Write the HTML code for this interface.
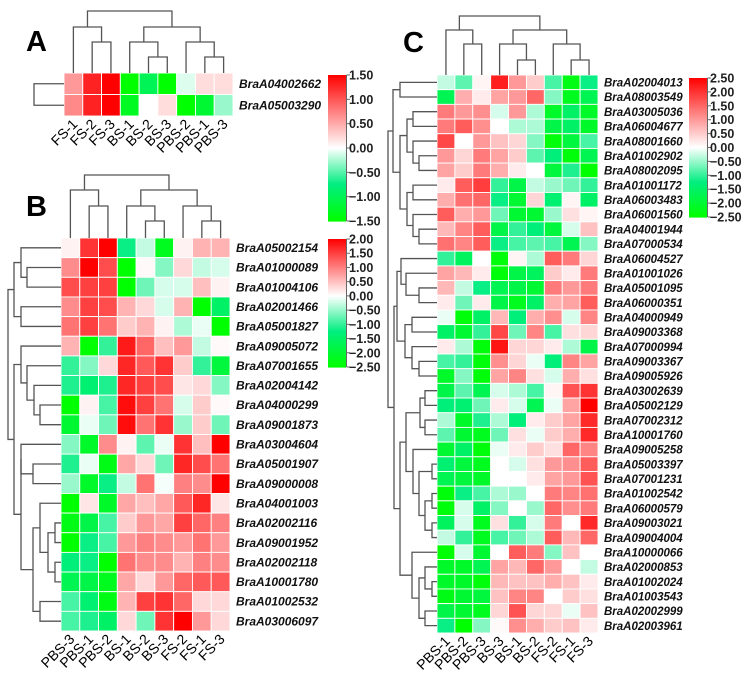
<!DOCTYPE html>
<html><head><meta charset="utf-8"><style>
body{margin:0;background:#fff}
svg{display:block;font-family:"Liberation Sans",Arial,sans-serif}
</style></head><body>
<svg id="fig" width="752" height="679" viewBox="0 0 752 679" xmlns="http://www.w3.org/2000/svg"></svg>
<script>
// ---- Panel A data ----
const colsA = ["FS-1","FS-2","FS-3","BS-1","BS-2","BS-3","PBS-2","PBS-1","PBS-3"];
const genesA = ["BraA04002662","BraA05003290"];
const valuesA = [
 [0.6,1.3,1.5,-1.5,-1.0,-1.5,-0.1,0.2,0.2],
 [0.7,1.3,1.5,-1.3,0.0,0.2,-1.5,-1.2,-0.3]
];
const ticksA = ["1.50","1.00","0.50","0.00","\u22120.50","\u22121.00","\u22121.50"];
// ---- Panel B data ----
const colsB = ["PBS-3","PBS-1","PBS-2","BS-1","BS-2","BS-3","FS-2","FS-1","FS-3"];
const genesB = ["BraA05002154","BraA01000089","BraA01004106","BraA02001466","BraA05001827","BraA09005072","BraA07001655","BraA02004142","BraA04000299","BraA09001873","BraA03004604","BraA05001907","BraA09000008","BraA04001003","BraA02002116","BraA09001952","BraA02002118","BraA10001780","BraA01002532","BraA03006097"];
const valuesB = [
 [0.1,1.6,2.0,-1.2,-0.3,-2.2,0.1,0.6,0.6],
 [0.9,2.0,1.4,-2.5,0.05,-0.6,0.3,-0.3,-0.2],
 [1.4,1.5,1.5,-2.5,-0.7,-0.2,-0.2,0.5,0.1],
 [0.9,1.5,1.4,0.6,0.3,-0.2,0.6,-2.5,-1.5],
 [1.1,1.5,1.1,0.4,0.6,0.1,-0.4,-0.1,-2.5],
 [0.6,-2.5,-1.0,1.8,1.2,0.5,0.8,-0.3,0.05],
 [-1.0,-0.6,0.3,1.7,1.3,1.6,0.4,-1.0,-1.9],
 [-1.1,-1.4,-1.1,1.7,1.5,1.4,0.2,0.3,-0.6],
 [-2.5,0.1,-0.9,1.9,1.5,1.1,-0.2,0.4,0.05],
 [-2.0,-0.1,-0.7,1.9,1.1,1.6,-0.5,0.4,-0.7],
 [-0.6,-2.1,0.9,0.1,-0.8,-0.1,1.6,0.5,2.0],
 [-1.1,-0.1,-2.3,0.7,0.3,-0.7,1.7,1.4,1.1],
 [-0.5,-2.1,-1.2,-0.3,1.1,-0.05,1.0,0.9,2.0],
 [-2.5,0.2,-2.1,0.7,0.5,0.7,1.3,1.7,0.2],
 [-2.3,-1.8,-0.9,0.4,0.8,0.7,1.5,1.2,1.0],
 [-2.5,-1.2,-0.9,0.8,1.0,0.9,0.8,1.1,0.8],
 [-1.3,-1.2,-2.5,1.1,0.9,0.9,0.6,1.0,0.9],
 [-1.7,-1.8,-2.2,0.7,0.3,0.8,1.2,1.3,1.3],
 [-0.9,-1.4,-2.3,0.6,1.5,1.6,1.2,0.3,0.3],
 [-0.9,-1.1,-1.5,0.3,-0.7,1.6,2.0,0.8,0.3]
];
const ticksB = ["2.00","1.50","1.00","0.50","0.00","\u22120.50","\u22121.00","\u22121.50","\u22122.00","\u22122.50"];
// ---- Panel C data ----
const colsC = ["PBS-1","PBS-2","PBS-3","BS-3","BS-1","BS-2","FS-2","FS-1","FS-3"];
const genesC = ["BraA02004013","BraA08003549","BraA03005036","BraA06004677","BraA08001660","BraA01002902","BraA08002095","BraA01001172","BraA06003483","BraA06001560","BraA04001944","BraA07000534","BraA06004527","BraA01001026","BraA05001095","BraA06000351","BraA04000949","BraA09003368","BraA07000994","BraA09003367","BraA09005926","BraA03002639","BraA05002129","BraA07002312","BraA10001760","BraA09005258","BraA05003397","BraA07001231","BraA01002542","BraA06000579","BraA09003021","BraA09004004","BraA10000066","BraA02000853","BraA01002024","BraA01003543","BraA02002999","BraA02003961"];
const valuesC = [
 [-0.3,-0.8,0.1,2.2,1.0,0.5,-0.9,-2.3,-1.2],
 [-1.7,0.8,0.2,0.9,1.0,1.5,-0.6,-2.2,-1.7],
 [1.3,1.0,1.1,-0.2,1.0,-0.4,-2.1,-1.5,-2.1],
 [1.3,1.6,1.1,0.0,-0.4,-0.4,-1.8,-1.5,-2.1],
 [1.8,0.0,1.0,0.6,0.4,-0.6,-2.4,-1.9,-0.9],
 [1.0,0.4,1.3,0.9,0.5,-0.8,-1.3,-2.4,-1.7],
 [0.9,0.5,1.3,0.8,0.2,0.0,-1.9,-1.1,-2.5],
 [0.2,1.6,1.9,-1.0,-1.8,-0.3,-0.5,-0.7,-1.0],
 [0.8,1.4,1.5,-1.2,-2.0,0.4,-1.4,0.1,-1.5],
 [1.6,0.8,1.0,-0.7,-2.0,-2.0,-0.5,0.3,0.1],
 [0.7,1.2,1.6,-1.8,-1.0,-1.3,-1.9,-0.2,0.6],
 [1.4,1.2,1.6,-1.2,-0.9,-0.8,-0.9,-1.7,-0.6],
 [-1.0,-1.6,0.0,-2.4,0.1,-0.4,1.6,1.3,0.4],
 [0.9,0.7,0.2,-2.4,-1.8,-1.6,0.5,0.2,1.3],
 [0.7,-0.3,-1.2,-1.7,-1.8,-2.0,1.3,1.0,1.3],
 [0.2,-0.7,0.2,-1.8,-2.2,-1.5,0.8,0.9,1.6],
 [-0.1,-2.4,-1.5,0.7,-1.3,0.8,1.1,-0.2,1.2],
 [-1.5,-2.0,-1.0,1.8,-0.7,1.2,-0.9,0.3,0.4],
 [0.2,-0.4,-2.4,2.3,0.4,0.4,0.2,-0.4,-1.8],
 [-0.9,-1.0,-2.4,1.1,0.4,-0.1,-1.3,1.2,0.9],
 [-2.1,-0.6,-2.4,0.9,1.2,0.3,-0.2,0.8,0.3],
 [-1.8,-0.8,-1.7,-0.2,-0.4,-0.9,0.1,1.7,2.0],
 [-1.3,-1.4,-0.7,0.2,-0.2,-1.7,-0.1,0.9,2.5],
 [-0.4,-2.1,-1.1,-0.4,-1.3,0.2,0.5,0.9,2.1],
 [-0.8,-2.0,-2.2,-0.7,0.3,-0.1,0.5,0.8,2.1],
 [-2.0,-1.5,-2.4,-0.1,0.2,0.5,0.3,1.5,1.2],
 [-1.4,-1.9,-2.2,0.0,-0.2,0.3,1.0,1.1,1.6],
 [-1.7,-1.9,-2.1,0.0,0.0,0.2,0.9,1.0,1.7],
 [-2.4,-1.2,-0.9,-0.4,-0.5,0.0,1.3,1.2,1.4],
 [-2.4,-0.2,-1.5,-0.6,0.0,-0.5,1.5,1.1,1.3],
 [-1.6,-0.2,-2.2,0.3,-1.0,-0.2,1.3,0.0,2.1],
 [-0.3,-1.0,-2.2,-0.9,-0.7,-0.4,1.6,0.7,1.5],
 [-2.5,-0.2,-2.0,0.0,1.6,1.3,-0.6,0.6,0.0],
 [-2.1,-2.1,-1.7,0.9,0.7,1.5,1.0,0.0,-0.3],
 [-2.1,-2.1,-2.4,0.7,0.6,0.6,0.8,0.6,0.2],
 [-2.3,-2.0,-1.9,0.6,1.2,1.2,0.0,0.5,0.3],
 [-1.8,-2.0,-2.2,0.4,1.7,0.4,0.4,-0.1,0.6],
 [-1.2,-2.5,-0.6,0.05,1.1,0.8,0.5,0.6,0.2]
];
const ticksC = ["2.50","2.00","1.50","1.00","0.50","0.00","\u22120.50","\u22121.00","\u22121.50","\u22122.00","\u22122.50"];

const NS="http://www.w3.org/2000/svg";
const svg=document.getElementById('fig');
function mk(tag,attrs,parent){const e=document.createElementNS(NS,tag);for(const k in attrs)e.setAttribute(k,attrs[k]);(parent||svg).appendChild(e);return e;}
function lerp(a,b,t){return Math.round(a+(b-a)*t);}
function color(v,vmin,vmax){
  if(v>=0){const t=Math.min(1,v/vmax);return `rgb(255,${lerp(255,0,t)},${lerp(255,0,t)})`;}
  const t=Math.min(1,v/vmin);
  if(t<0.5){const s=t/0.5;return `rgb(${lerp(255,0,s)},${lerp(255,238,s)},${lerp(255,128,s)})`;}
  const s=(t-0.5)/0.5;return `rgb(0,${lerp(238,255,s)},${lerp(128,0,s)})`;
}
function heatmap(p){
  const g=mk('g',{});
  
  
  const cw=p.w/p.cols.length,ch=p.h/p.genes.length;
  p.values.forEach((row,i)=>row.forEach((v,j)=>{
    const r=mk('rect',{x:p.x+j*cw,y:p.y+i*ch,width:cw,height:ch,fill:color(v,p.vmin,p.vmax),stroke:'#fff','stroke-width':0.9},g);
    
    
  }));
  p.genes.forEach((gn,i)=>{
    const t=mk('text',{x:p.x+p.w+6,y:p.y+(i+0.5)*ch+4.2,'font-size':p.fs,'font-weight':'bold','font-style':'italic',fill:'#111'},g);
    t.textContent=gn;
    
    
  });
  p.cols.forEach((c,j)=>{
    const cx=p.x+(j+0.5)*cw+5,cy=p.y+p.h+9;
    const t=mk('text',{x:cx,y:cy,'font-size':14,'text-anchor':'end',fill:'#000',transform:`rotate(-45 ${cx} ${cy})`},g);
    t.textContent=c;
    
    
  });
  const dg=mk('g',{stroke:'#555','stroke-width':1.3,fill:'none'},g);
  function col(node){
    if(typeof node==='number')return {x:p.x+(node+0.5)*cw,y:p.y};
    const a=col(node[0]),b=col(node[1]),y=p.y-node[2];
    mk('path',{d:`M${a.x},${a.y}V${y}H${b.x}V${b.y}`},dg);
    return {x:(a.x+b.x)/2,y:y};
  }
  col(p.ctree);
  function row(node){
    if(typeof node==='number')return {y:p.y+(node+0.5)*ch,x:p.x};
    const a=row(node[0]),b=row(node[1]),x=p.x-node[2];
    mk('path',{d:`M${a.x},${a.y}H${x}V${b.y}H${b.x}`},dg);
    return {y:(a.y+b.y)/2,x:x};
  }
  row(p.rtree);
}
function colorbar(p){
  const g=mk('g',{});
  
  
  const steps=120;
  for(let i=0;i<steps;i++){
    const v=p.vmax-(p.vmax-p.vmin)*(i+0.5)/steps;
    mk('rect',{x:p.x,y:p.y+i*p.h/steps,width:18,height:p.h/steps+0.6,fill:color(v,p.vmin,p.vmax)},g);
  }
  mk('line',{x1:p.x+18.5,y1:p.y,x2:p.x+18.5,y2:p.y+p.h,stroke:'#666','stroke-width':1},g);
  p.ticks.forEach((tk,i)=>{
    const y=p.y+i*p.h/(p.ticks.length-1);
    mk('line',{x1:p.x+18.5,y1:y,x2:p.x+22,y2:y,stroke:'#666','stroke-width':1},g);
    const t=mk('text',{x:p.x+21,y:y+4.5,'font-size':12.5,'font-weight':'bold',fill:'#222'},g);
    t.textContent=tk;
    
    
  });
}
function letter(ch,x,y){const t=mk('text',{x:x,y:y,'font-size':29,'font-weight':'bold',fill:'#000'});t.textContent=ch;}

letter('A',26,51);letter('B',26,216);letter('C',403,52);

heatmap({name:'heatmap-a',x:64,y:73,w:169,h:43,cols:colsA,genes:genesA,values:valuesA,vmin:-1.5,vmax:1.5,fs:12,
  ctree:[[0,[1,2,31],46],[[3,[4,5,16],31],[6,[7,8,16],31],46],62],rtree:[0,1,30]});
colorbar({name:'colorbar-a',x:328,y:75,h:146,vmin:-1.5,vmax:1.5,ticks:ticksA});

heatmap({name:'heatmap-b',x:61,y:238,w:169,h:393,cols:colsB,genes:genesB,values:valuesB,vmin:-2.5,vmax:2,fs:12,
  ctree:[[0,[1,2,32],48],[[3,[4,5,17],32],[6,[7,8,17],32],48],63],
  rtree:[[[0,[1,2,34],40],[3,4,40],47],[[5,[6,[7,[8,9,21],27],34],40],[[10,[11,12,28],40],[[13,[[14,15,6],[16,17,6],13],21],[18,19,21],28],40],47],53]});
colorbar({name:'colorbar-b',x:328,y:239,h:128,vmin:-2.5,vmax:2,ticks:ticksB});

heatmap({name:'heatmap-c',x:437,y:75,w:161,h:558,cols:colsC,genes:genesC,values:valuesC,vmin:-2.5,vmax:2.5,fs:11.5,
  ctree:[[0,[1,2,31],45],[[3,[4,5,15],31],[6,[7,8,15],31],45],59],
  rtree:[[[0,1,37],[[[2,3,24],[4,[5,6,18],24],30],[[7,8,24],[9,[10,11,18],24],30],37],44],
   [[[12,[13,[14,15,18],31],36],[[16,17,25],[18,[19,20,18],25],32],40],
    [[[[21,22,12],[23,24,12],17],[25,[[26,27,5],[[28,29,5],[30,31,5],12],18],24],31],[32,[[33,[34,35,5],12],[36,37,12],18],25],37],43],49]});
colorbar({name:'colorbar-c',x:689,y:78,h:139,vmin:-2.5,vmax:2.5,ticks:ticksC});
</script>
</body></html>
